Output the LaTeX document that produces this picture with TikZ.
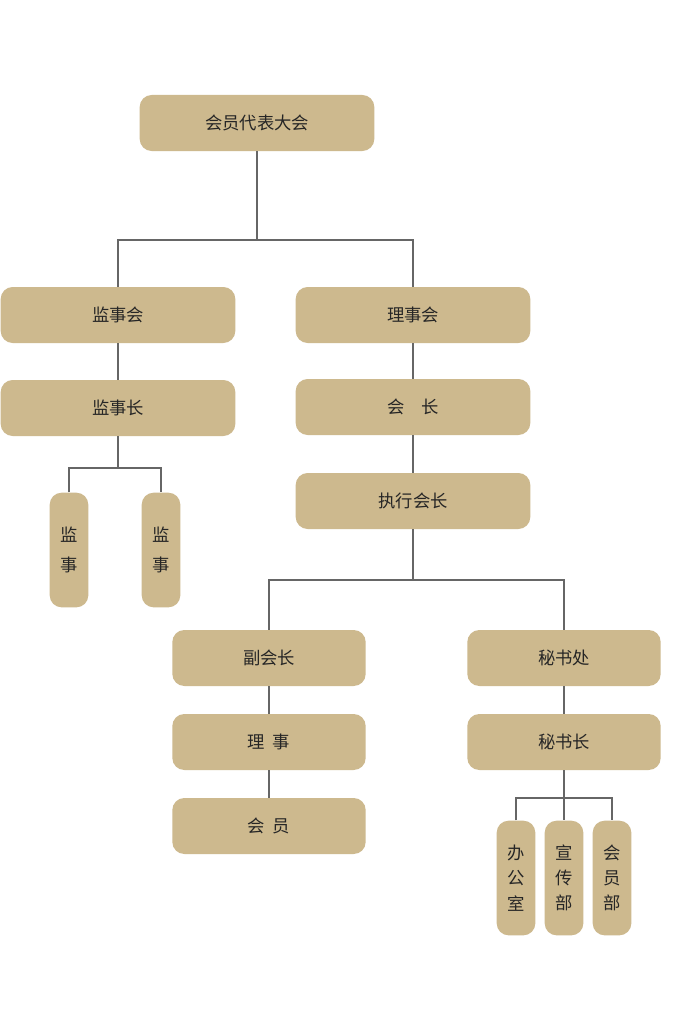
\documentclass[tikz,border=0pt]{standalone}
\usepackage{fontspec}
\setmainfont{Noto Sans CJK SC}
\begin{document}
\begin{tikzpicture}[x=0.75pt,y=-0.75pt,
 box/.style={fill=boxc,rounded corners=9pt,inner sep=0pt,font=\fontsize{13}{15}\selectfont,text=black!85},
 hb/.style={box,minimum width=176pt,minimum height=42pt},
 mb/.style={box,minimum width=145pt,minimum height=42pt},
 vb/.style={box,minimum width=29pt,minimum height=86pt,align=center,font=\fontsize{13}{19}\selectfont},
 ln/.style={draw=black!60,line width=0.9pt}]
\definecolor{boxc}{HTML}{CDB98E}
\useasboundingbox[fill=white] (0,0) rectangle (681,1024);
\node[hb,minimum width=176pt] (top) at (257,123) {会员代表大会};
\node[hb] (jsh) at (118,315) {监事会};
\node[hb] (lsh) at (413,315) {理事会};
\node[hb] (jsz) at (118,408) {监事长};
\node[hb] (hz) at (413,407) {会\quad 长};
\node[hb] (zx) at (413,501) {执行会长};
\node[vb] (js1) at (69,550) {监\\[4pt]事};
\node[vb] (js2) at (161,550) {监\\[4pt]事};
\node[mb] (fhz) at (269,658) {副会长};
\node[mb] (ls) at (269,742) {理\ \ 事};
\node[mb] (hy) at (269,826) {会\ \ 员};
\node[mb] (msc) at (564,658) {秘书处};
\node[mb] (msz) at (564,742) {秘书长};
\node[vb] (b1) at (516,878) {办\\公\\室};
\node[vb] (b2) at (564,878) {宣\\传\\部};
\node[vb] (b3) at (612,878) {会\\员\\部};
\coordinate (c1) at (257,240);
\coordinate (c2) at (118,468);
\coordinate (c3) at (413,580);
\coordinate (c4) at (564,798);
\draw[ln] (top.south) -- (c1);
\draw[ln] (jsh.north) |- (c1) -| (lsh.north);
\draw[ln] (jsh) -- (jsz); \draw[ln] (lsh) -- (hz); \draw[ln] (hz) -- (zx);
\draw[ln] (jsz.south) -- (c2);
\draw[ln] (js1.north) |- (c2) -| (js2.north);
\draw[ln] (zx.south) -- (c3);
\draw[ln] (fhz.north) |- (c3) -| (msc.north);
\draw[ln] (fhz) -- (ls); \draw[ln] (ls) -- (hy);
\draw[ln] (msc) -- (msz);
\draw[ln] (msz.south) -- (b2.north);
\draw[ln] (b1.north) |- (c4) -| (b3.north);
\end{tikzpicture}
\end{document}
